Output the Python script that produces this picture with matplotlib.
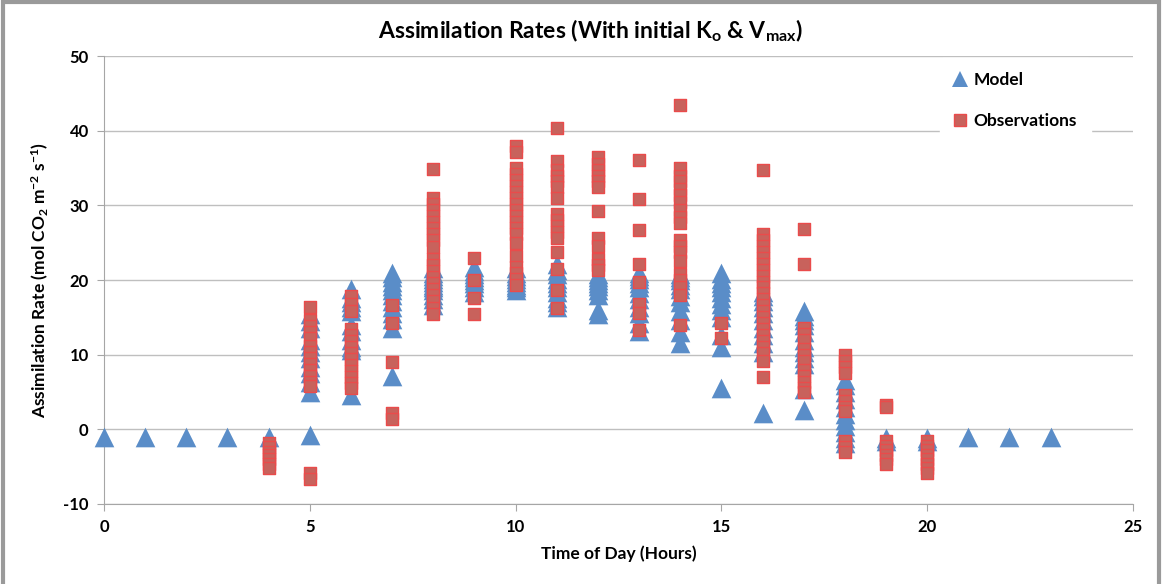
import matplotlib
matplotlib.use("Agg")
import matplotlib.pyplot as plt
from matplotlib.lines import Line2D
from matplotlib.patches import Rectangle

# Hour of day for each column of points
hours = list(range(24))

# Modelled assimilation rate per hour
model = [
    [-1.0], [-1.0], [-1.0], [-1.0], [-1.0],
    [15.5, 14.5, 13.6, 12.0, 11.2, 10.4, 9.5, 8.4, 7.6, 6.4, 5.0, -0.8],
    [18.8, 17.6, 17.0, 16.4, 15.8, 14.0, 13.2, 12.0, 11.0, 10.6, 4.6],
    [21.0, 20.4, 19.8, 19.2, 18.6, 18.0, 17.2, 16.4, 15.6, 14.8, 13.6, 7.2],
    [21.6, 21.0, 20.6, 20.2, 19.8, 19.4, 19.0, 18.6, 18.0, 17.4, 16.6],
    [21.8, 21.2, 20.8, 20.4, 20.0, 19.6, 19.0, 18.4],
    [21.6, 21.0, 20.6, 20.2, 19.8, 19.4, 19.0, 18.6],
    [22.2, 21.4, 20.8, 20.2, 19.6, 19.0, 18.4, 17.6, 17.0, 16.4],
    [20.8, 20.4, 20.0, 19.6, 19.2, 18.6, 18.0, 16.0, 15.4],
    [21.0, 20.6, 20.2, 19.6, 19.0, 18.2, 17.4, 16.4, 15.6, 14.2, 13.2],
    [20.8, 20.4, 20.0, 19.4, 18.8, 17.8, 17.0, 15.8, 14.6, 13.0, 11.6],
    [21.0, 20.2, 19.6, 19.0, 18.4, 17.6, 16.8, 16.0, 15.0, 12.6, 11.0, 5.6],
    [18.4, 17.8, 17.2, 16.4, 15.6, 14.6, 13.6, 12.6, 11.6, 10.4, 2.2],
    [15.8, 15.2, 14.6, 14.0, 13.0, 12.0, 11.0, 10.4, 9.6, 8.8, 5.4, 2.6],
    [6.6, 6.0, 5.0, 4.0, 3.0, 2.0, 1.2, 0.4, -0.4, -1.2, -1.8],
    [-1.2, -1.6], [-1.2, -1.6],
    [-1.0], [-1.0], [-1.0],
]

# Observed assimilation rate per hour
observations = [
    [], [], [], [],
    [-1.8, -2.4, -3.0, -3.5, -4.0, -4.6, -5.2],
    [16.4, 14.6, 13.8, 13.0, 12.2, 11.2, 10.4, 9.6, 8.8, 8.0, 7.2, 6.4, 5.8, -5.8, -6.6],
    [17.8, 16.8, 15.8, 13.4, 12.6, 11.8, 11.0, 10.2, 9.4, 8.6, 7.8, 7.0, 6.2, 5.6],
    [16.6, 14.2, 9.0, 2.2, 1.4],
    [34.9, 31.0, 30.2, 29.4, 28.6, 27.8, 27.0, 26.2, 25.4, 24.4, 22.8, 22.0,
     21.2, 20.4, 19.6, 18.8, 18.0, 17.2, 16.2, 15.4],
    [22.9, 20.0, 17.6, 15.5],
    [38.0, 37.2, 35.0, 34.2, 33.4, 32.6, 31.8, 31.0, 30.2, 29.4, 28.6, 27.8,
     27.0, 26.2, 25.0, 23.2, 21.8, 21.0, 20.2, 19.4],
    [40.3, 36.0, 34.8, 34.0, 33.2, 32.4, 31.0, 28.8, 28.0, 27.2, 26.4, 25.6,
     23.7, 21.5, 18.6, 16.2],
    [36.5, 35.6, 34.8, 34.0, 33.2, 32.4, 29.3, 25.6, 24.6, 22.8, 22.0, 21.3],
    [36.1, 30.8, 26.7, 22.2, 19.7, 16.8, 15.6, 13.3],
    [43.4, 35.0, 34.0, 33.2, 32.2, 31.4, 30.4, 29.4, 28.4, 27.6, 25.4, 24.6,
     23.8, 22.6, 20.8, 20.0, 19.0, 18.0, 14.0],
    [14.3, 12.2],
    [34.8, 26.2, 25.4, 24.6, 23.8, 23.0, 22.2, 21.4, 20.6, 19.8, 19.0, 18.2,
     17.4, 16.6, 15.8, 15.0, 14.2, 13.4, 12.6, 11.8, 11.0, 10.2, 9.2, 7.0],
    [26.8, 22.2, 13.6, 12.8, 12.0, 10.8, 10.0, 9.2, 8.0, 7.2, 6.4, 5.6, 5.0],
    [10.0, 9.2, 8.4, 7.6, 4.6, 3.8, 3.0, 2.4, -1.6, -2.4, -3.0],
    [3.3, 3.0, -1.6, -2.2, -2.8, -3.4, -4.0, -4.6],
    [-1.6, -2.2, -2.8, -3.4, -4.0, -4.6, -5.2, -5.8],
    [], [], [],
]

x_ticks = [0, 5, 10, 15, 20, 25]
y_ticks = [-10, 0, 10, 20, 30, 40, 50]

blue = "#5A8DC8"
red_face = "#C8625C"
red_edge = "#EA4B4B"
grey = "#BFBFBF"

plt.rcParams["font.family"] = ["Lato", "DejaVu Sans"]
plt.rcParams["font.weight"] = "bold"
plt.rcParams["axes.unicode_minus"] = False
plt.rcParams["mathtext.fontset"] = "custom"
plt.rcParams["mathtext.rm"] = "Lato:bold"
plt.rcParams["mathtext.it"] = "Lato:bold"
plt.rcParams["mathtext.bf"] = "Lato:bold"
plt.rcParams["mathtext.default"] = "rm"

fig = plt.figure(figsize=(11.62, 5.84), dpi=100)
ax = fig.add_axes([0.0895, 0.137, 0.8855, 0.767])

mx = [h for h, vals in zip(hours, model) for _ in vals]
my = [v for vals in model for v in vals]
ox = [h for h, vals in zip(hours, observations) for _ in vals]
oy = [v for vals in observations for v in vals]

ax.scatter(mx, my, marker="^", s=200, color=blue, linewidths=0,
           clip_on=False, zorder=3)
ax.scatter(ox, oy, marker="s", s=80, facecolor=red_face, edgecolor=red_edge,
           linewidths=1.0, clip_on=False, zorder=4)

ax.set_xlim(0, 25)
ax.set_ylim(-10, 50)
ax.set_xticks(x_ticks)
ax.set_yticks(y_ticks)
ax.tick_params(axis="both", labelsize=12, color="#A6A6A6", length=5,
               direction="out", pad=6)
ax.yaxis.grid(True, color=grey, linewidth=1)
ax.set_axisbelow(True)
for side in ("top", "right"):
    ax.spines[side].set_visible(False)
for side in ("left", "bottom"):
    ax.spines[side].set_color("#A6A6A6")

ax.set_xlabel("Time of Day (Hours)", fontsize=12.5, fontweight="bold", labelpad=7)
ax.set_ylabel("Assimilation Rate (mol CO$_2$ m$^{-2}$ s$^{-1}$)", fontsize=12.5,
              fontweight="bold", labelpad=9)
fig.text(0.508, 0.948, "Assimilation Rates (With initial K$_o$ & V$_{max}$)",
         ha="center", va="center", fontsize=16.5, fontweight="bold")

handles = [
    Line2D([], [], marker="^", linestyle="none", markersize=11, color=blue,
           markeredgewidth=0),
    Line2D([], [], marker="s", linestyle="none", markersize=9,
           markerfacecolor=red_face, markeredgecolor=red_edge),
]
leg = ax.legend(handles, ["Model", "Observations"], loc="upper left",
                bbox_to_anchor=(0.812, 0.995), frameon=True, fontsize=12.5,
                labelspacing=1.45, handlelength=0.8, handletextpad=0.35,
                borderpad=0.8, borderaxespad=0)
leg.get_frame().set_facecolor("white")
leg.get_frame().set_edgecolor("white")
leg.get_frame().set_alpha(1)

fig.patches.append(Rectangle((0.003, -0.05), 0.994, 1.046, transform=fig.transFigure,
                             fill=False, edgecolor="#9A9A9A", linewidth=3))

fig.savefig("out.png", dpi=100)
